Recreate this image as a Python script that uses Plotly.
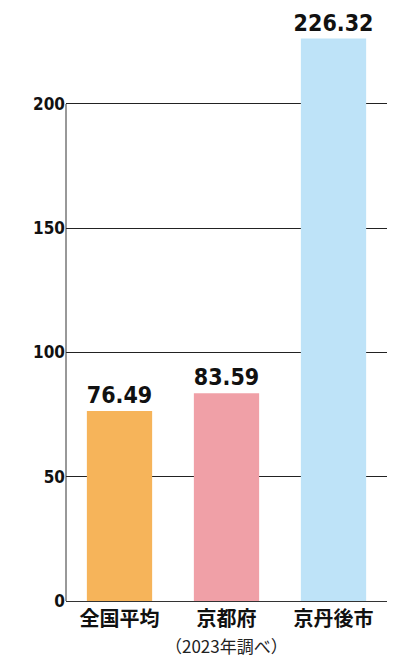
import plotly.graph_objects as go

categorias = ["全国平均", "京都府", "京丹後市"]
valores = [76.49, 83.59, 226.32]
colores = ["#F6B45A", "#F0A0A7", "#BEE3F8"]
ticks_y = [0, 50, 100, 150, 200]

NUM_FONT = "DejaVu Sans Condensed, Liberation Sans Narrow, Arial Narrow"

fig = go.Figure()

fig.add_trace(go.Bar(
    x=categorias, y=valores,
    marker_color=colores, marker_line_width=0,
    text=[f"{v:.2f}" for v in valores],
    textposition="outside", cliponaxis=False, constraintext="none",
    textfont=dict(family=NUM_FONT, size=23, color="#111", weight="bold"),
    width=0.61,
))

# eje Y solo hasta 200
fig.add_shape(type="line", xref="paper", yref="y", x0=0, x1=0, y0=0, y1=ticks_y[-1],
              line=dict(color="#333", width=1))

fig.add_annotation(text="（2023年調べ）", xref="paper", yref="paper", x=0.5, y=0,
                   yshift=-30, yanchor="top", showarrow=False,
                   font=dict(family="Noto Sans CJK JP", size=17, color="#222"))

fig.update_layout(
    width=400, height=662,
    margin=dict(l=58, r=21, t=0, b=69, autoexpand=False),
    plot_bgcolor="white", paper_bgcolor="white",
    showlegend=False,
    xaxis=dict(showline=True, linecolor="#333", linewidth=1, ticks="",
               tickfont=dict(family="Noto Sans CJK JP", size=20, color="#111", weight="bold")),
    yaxis=dict(range=[0, 238.6], tickvals=ticks_y, showgrid=True, gridcolor="#222", gridwidth=1,
               zeroline=False, showline=False, ticks="",
               tickfont=dict(family=NUM_FONT, size=17, color="#111", weight="bold")),
)

fig.write_html("out.html")
